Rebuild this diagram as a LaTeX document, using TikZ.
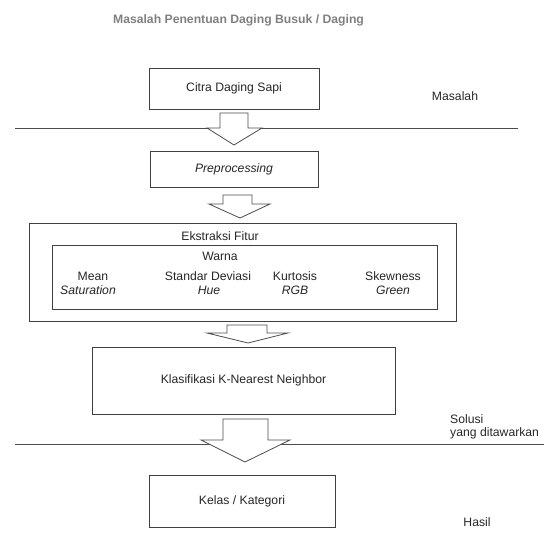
\documentclass[tikz,border=0pt]{standalone}
\usepackage{fontspec}
\setmainfont{Liberation Sans}
\newcommand\blockarr[8]{%
  \draw[arrowbox] (#1,#3) -- (#1,#4) -- (#5,#4) -- (#7,#8) -- (#6,#4) -- (#2,#4) -- (#2,#3) -- cycle;}
\begin{document}
\begin{tikzpicture}[x=1pt,y=-1pt,
  every node/.style={font=\fontsize{12.2}{14}\selectfont, text=black!85, inner sep=0pt},
  box/.style={draw=black!75, line width=0.8pt, fill=white},
  sep/.style={draw=black!70, line width=0.9pt},
  arrowbox/.style={draw=black!70, line width=0.8pt, fill=white, line join=miter},
  lbl/.style={anchor=center}]
\useasboundingbox (0,0) rectangle (544,535);
% separator lines
\coordinate (l1a) at (15,128); \coordinate (l1b) at (518,128);
\coordinate (l2a) at (15,444); \coordinate (l2b) at (544,444);
\draw[sep] (l1a) -- (l1b);
\draw[sep] (l2a) -- (l2b);
% title
\node[font=\bfseries\fontsize{12.2}{14}\selectfont, text=black!50] (title) at (238.5,20) {Masalah Penentuan Daging Busuk / Daging};
% boxes
\node[box, minimum width=170pt, minimum height=41pt] (citra) at (234,88.5) {Citra Daging Sapi};
\node[box, minimum width=168pt, minimum height=36pt] (prep) at (234,169) {\itshape Preprocessing};
\node[box, minimum width=427pt, minimum height=98pt] (ekstr) at (242.5,272) {};
\node[box, minimum width=385pt, minimum height=64pt] (warnabox) at (244.5,277) {};
\node[box, minimum width=303pt, minimum height=67pt] (knn) at (243.5,380.5) {Klasifikasi K-Nearest Neighbor};
\node[box, minimum width=186pt, minimum height=52pt] (kelas) at (242,501) {Kelas / Kategori};
% texts in feature box
\node (ektxt) at (220,236) {Ekstraksi Fitur};
\node (warna) at (220,256) {Warna};
\node (mean) at (93,276) {Mean};
\node (sat) at (88,290) {\itshape Saturation};
\node (std) at (208,276) {Standar Deviasi};
\node (hue) at (209,290) {\itshape Hue};
\node (kurt) at (295,276) {Kurtosis};
\node (rgb) at (295,290) {\itshape RGB};
\node (skew) at (393,276) {Skewness};
\node (green) at (393,290) {\itshape Green};
% side labels
\node (masalah) at (455,96) {Masalah};
\node[anchor=west] (solusi) at (450,419) {Solusi};
\node[anchor=west] (yang) at (450,433) {yang ditawarkan};
\node (hasil) at (477,522) {Hasil};
% block arrows
\blockarr{220}{248}{113}{128}{207}{262}{234}{145}
\blockarr{223}{252}{195}{204}{209}{270}{240}{218}
\blockarr{227}{267}{325}{333}{207}{288}{248}{343}
\blockarr{223}{268}{419}{440}{201}{290}{245}{462}
\end{tikzpicture}
\end{document}
